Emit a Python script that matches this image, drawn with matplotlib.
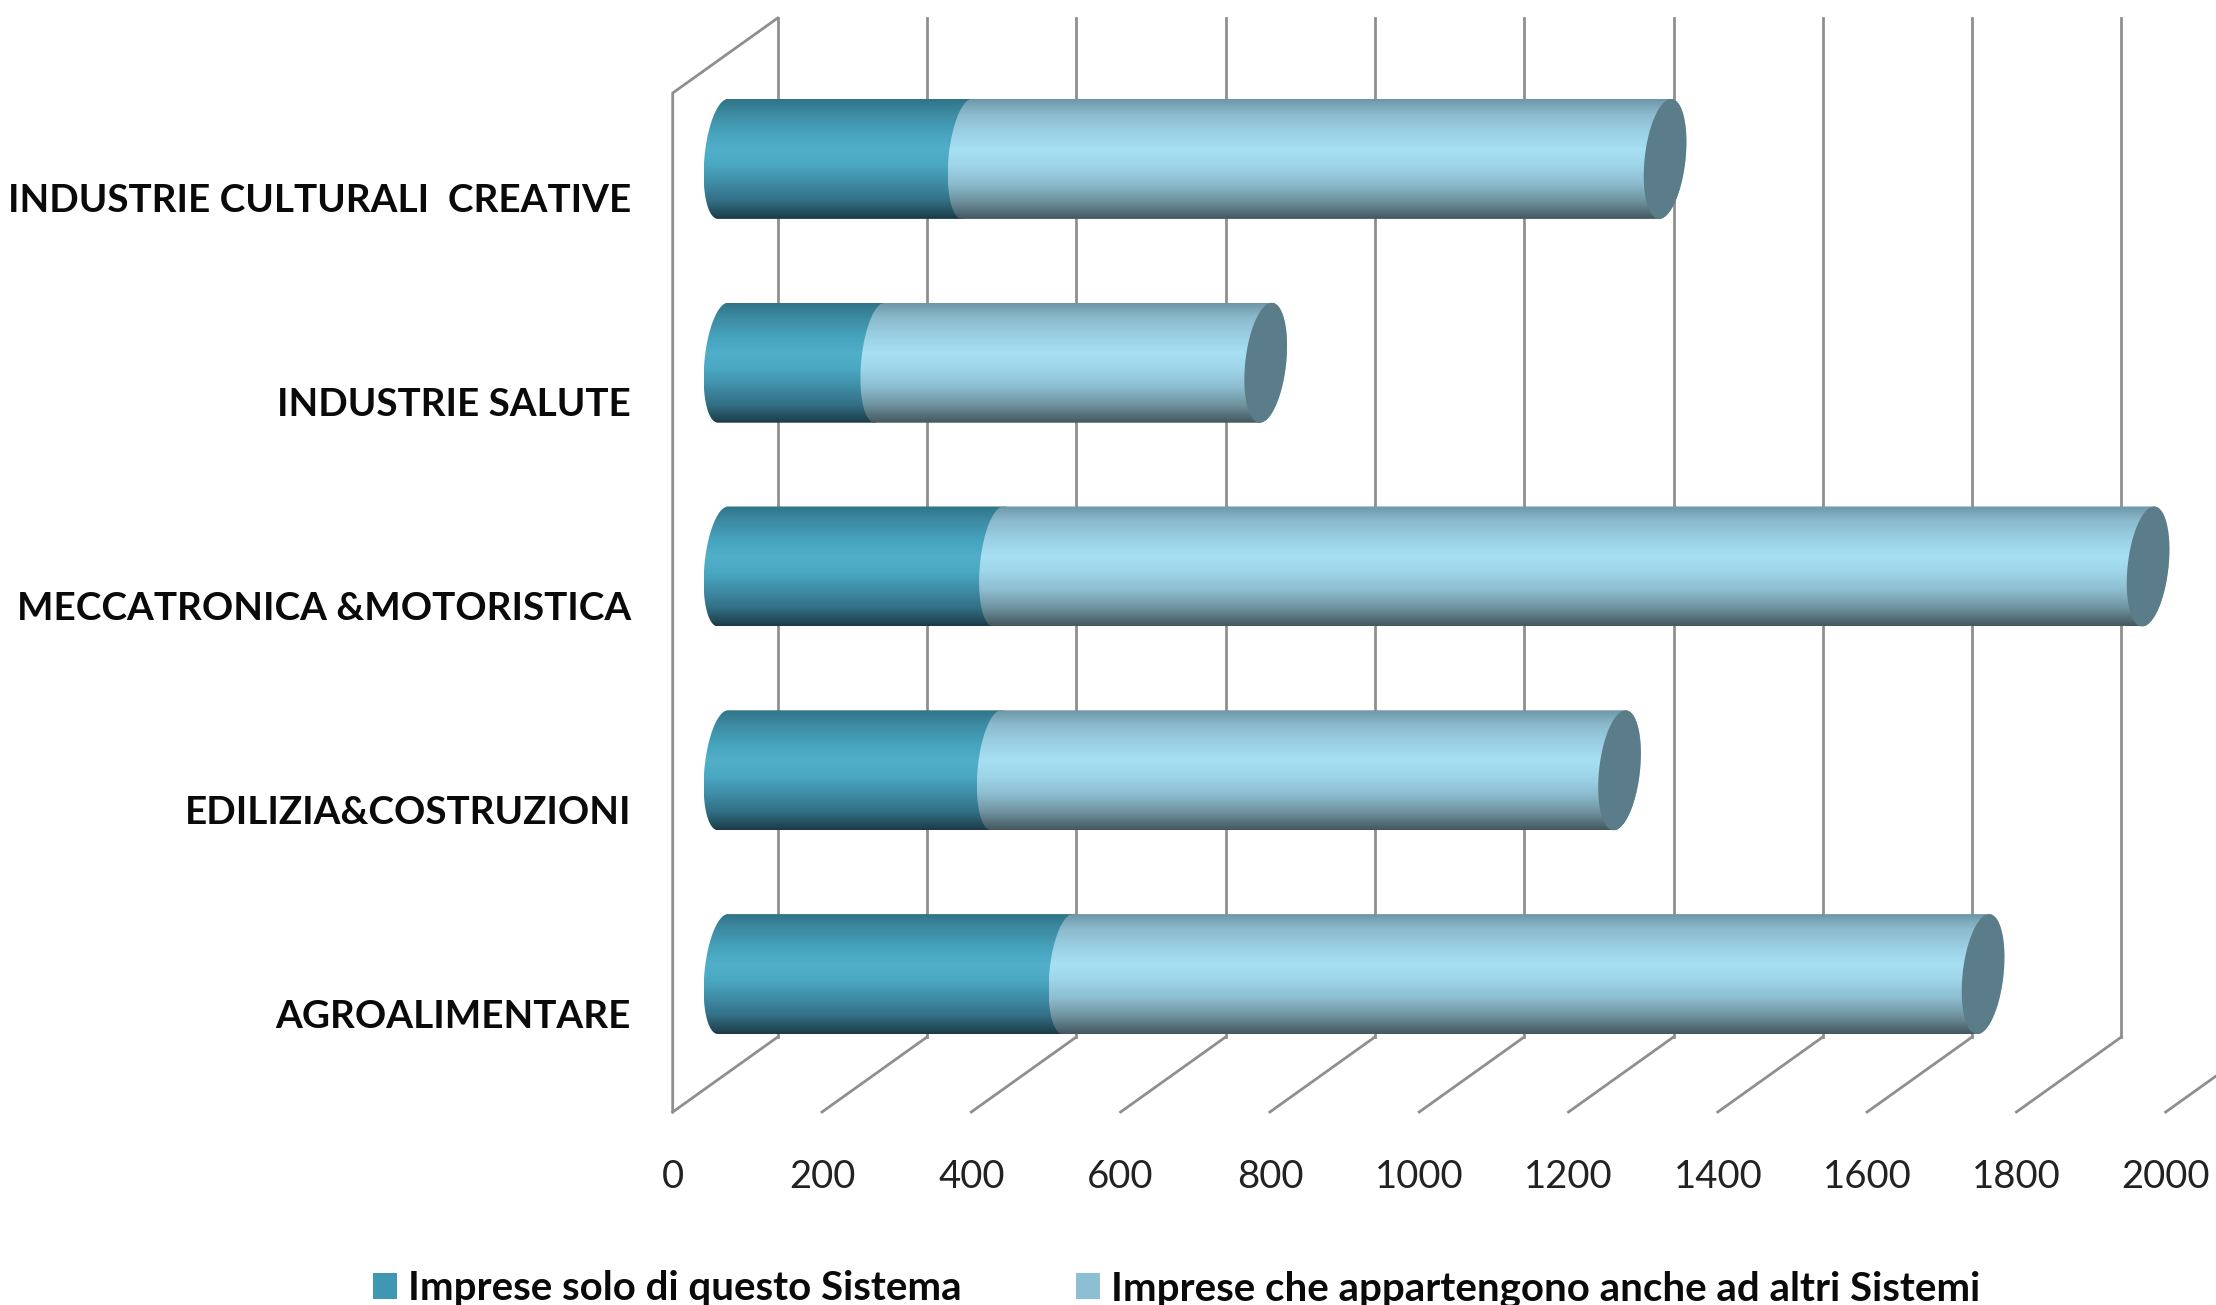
import numpy as np
import matplotlib
matplotlib.use("Agg")
import matplotlib.pyplot as plt
from matplotlib.colors import LinearSegmentedColormap
from matplotlib.patches import Patch, Polygon

plt.rcParams['font.family'] = ['Lato', 'DejaVu Sans']

categories = ["AGROALIMENTARE", "EDILIZIA&COSTRUZIONI", "MECCATRONICA &MOTORISTICA",
              "INDUSTRIE SALUTE", "INDUSTRIE CULTURALI  CREATIVE"]
solo_sistema = [462, 366, 369, 210, 327]
altri_sistemi = [1226, 835, 1540, 517, 935]
x_ticks = [0, 200, 400, 600, 800, 1000, 1200, 1400, 1600, 1800, 2000]
legend_labels = ["Imprese solo di questo Sistema", "Imprese che appartengono anche ad altri Sistemi"]

# pixel scale of the chart
W, H = 2216, 1305
PX_X = 0.7465   # px per unit on the x axis
PX_Y = 203.8    # px per category
X0_PX = 672.7
Y0_PX = 1112

GRID = "#8f8f8f"
STOPS = [0, .12, .3, .42, .55, .7, .85, 1]
DARK = ["#2f7487", "#3d8ba3", "#48a5bf", "#52afca", "#4ba8c3", "#3f8ca6", "#326f84", "#1b3b48"]
LIGHT = ["#6d97a8", "#8bbacc", "#9dd3e7", "#a7dff3", "#9fd5e9", "#8dbdd0", "#6f939f", "#44575f"]
CAP = "#5b7c89"

# 3d depth of the walls and where the bars sit in it
depth_x, depth_y = 105 / PX_X, 75 / PX_Y
bar_dx, bar_dy = 50.3 / PX_X, 36 / PX_Y
half_h = 60 / PX_Y
near_a, near_s = 18.7 / PX_X, 5 / PX_X
far_a, far_s = 20.5 / PX_X, 6 / PX_X


def arc(cx, cy, t0, t1, a, s):
    t = np.radians(np.linspace(t0, t1, 60))
    return np.column_stack([cx + a * np.cos(t) + s * np.sin(t), cy + half_h * np.sin(t)])


def cylinder(ax, start, end, cy, colors, z):
    x0, x1 = start + bar_dx, end + bar_dx
    verts = np.vstack([arc(x0, cy, 90, 270, near_a, near_s), arc(x1, cy, 270, 450, far_a, far_s)])
    cmap = LinearSegmentedColormap.from_list("bar", list(zip(STOPS, colors)))
    outline = Polygon(verts, closed=True, fc="none", ec="none", transform=ax.transData)
    ax.add_patch(outline)
    im = ax.imshow(np.linspace(0, 1, 256)[:, None], cmap=cmap, aspect="auto", interpolation="bilinear",
                   extent=(verts[:, 0].min(), verts[:, 0].max(), cy - half_h, cy + half_h),
                   origin="upper", zorder=z)
    im.set_clip_path(outline)


fig = plt.figure(figsize=(W / 100, H / 100), dpi=100, facecolor="white")
ax = fig.add_axes([0, 0, 1, 1])
ax.axis("off")

x_lim = (-X0_PX / PX_X, (W - X0_PX) / PX_X)
y_lim = (-0.5 - (H - Y0_PX) / PX_Y, -0.5 + Y0_PX / PX_Y)
n = len(categories)
y_bot, y_top = -0.5, n - 0.5

# walls
for v in x_ticks:
    ax.plot([v, v + depth_x], [y_bot, y_bot + depth_y], color=GRID, lw=2, zorder=1)
    ax.plot([v + depth_x] * 2, [y_bot + depth_y, y_top + depth_y], color=GRID, lw=2, zorder=1)
ax.plot([0, 0, depth_x], [y_bot, y_top, y_top + depth_y], color=GRID, lw=2, zorder=1)

# bars
for i in range(n):
    cy = i + bar_dy
    total = solo_sistema[i] + altri_sistemi[i]
    cylinder(ax, 0, solo_sistema[i], cy, DARK, 3)
    cylinder(ax, solo_sistema[i], total, cy, LIGHT, 4)
    ax.add_patch(Polygon(arc(total + bar_dx, cy, 0, 360, far_a, far_s), closed=True, fc=CAP, ec="none", zorder=5))

# labels
label_x = (631 - X0_PX) / PX_X
for i, name in enumerate(categories):
    ax.text(label_x, i - 6 / PX_Y, name, ha="right", va="center", fontsize=27.8, fontweight="bold", color="#0a0a0a")
tick_y = -0.5 - (1177 - Y0_PX) / PX_Y
for v in x_ticks:
    ax.text(v, tick_y, str(v), ha="center", va="center", fontsize=27.5, color="#222222")

handles = [Patch(fc="#3f97b1", ec="none"), Patch(fc="#8cbfd2", ec="none")]
leg = ax.legend(handles, legend_labels, ncol=2, loc="lower left", bbox_to_anchor=(373 / W, -0.002),
                frameon=False, fontsize=29, borderpad=0, borderaxespad=0, handlelength=0.6,
                handleheight=0.6, handletextpad=0.27, columnspacing=2.84)
for t in leg.get_texts():
    t.set_fontweight("bold")
    t.set_color("#0a0a0a")

ax.set_xlim(*x_lim)
ax.set_ylim(*y_lim)
fig.savefig("out.png", dpi=100, facecolor="white")
